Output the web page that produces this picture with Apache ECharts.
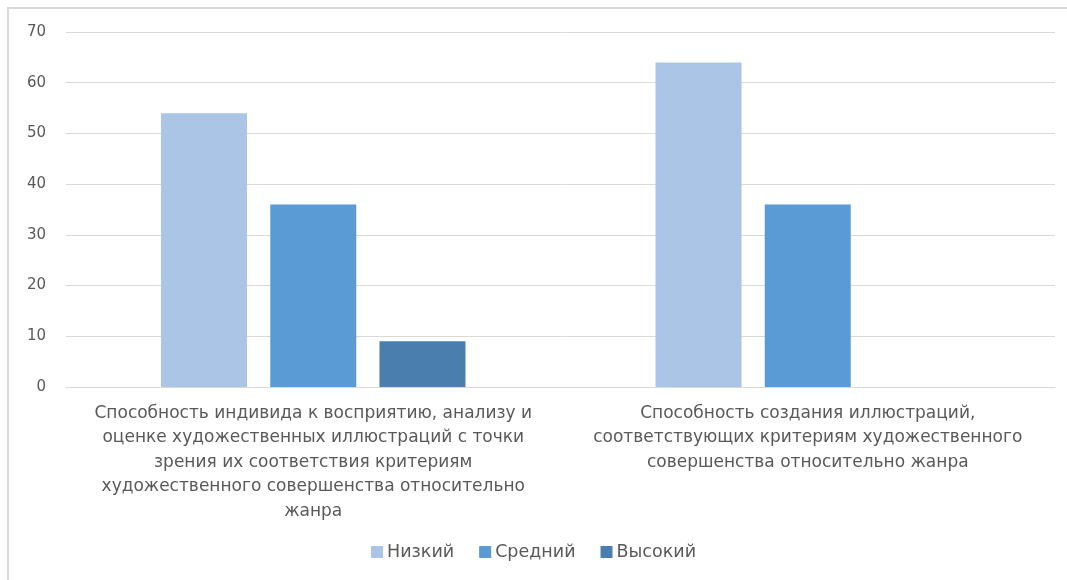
<!DOCTYPE html>
<html>
<head>
<meta charset="utf-8">
<script src="https://cdn.jsdelivr.net/npm/echarts@6/dist/echarts.min.js"></script>
<style>
  html, body { margin: 0; padding: 0; background: #fff; }
  #frame { position: absolute; left: 7px; top: 7px; width: 1060px; height: 573px;
           border-left: 2px solid #d9d9d9; border-top: 2px solid #d9d9d9; box-sizing: border-box; }
  #chart { position: absolute; left: 0; top: 0; width: 1067px; height: 580px; }
</style>
</head>
<body>
<div id="frame"></div>
<div id="chart"></div>
<script>
// Categories (axis labels, wrapped as they appear)
const categories = [
  'Способность индивида к восприятию, анализу и\nоценке художественных иллюстраций с точки\nзрения их соответствия критериям\nхудожественного совершенства относительно\nжанра',
  'Способность создания иллюстраций,\nсоответствующих критериям художественного\nсовершенства относительно жанра'
];
const seriesNames = ['Низкий', 'Средний', 'Высокий'];
const lowValues = [54, 64];
const midValues = [36, 36];
const highValues = [9, 0];
const yTicks = { min: 0, max: 70, interval: 10 };

const colors = ['#abc5e6', '#5b9bd5', '#4a7eaf'];
const font = 'DejaVu Sans';

const chart = echarts.init(document.getElementById('chart'), null, { renderer: 'canvas' });
const values = [lowValues, midValues, highValues];

chart.setOption({
  animation: false,
  color: colors,
  grid: { left: 66, right: 12, top: 32, bottom: 193, containLabel: false },
  legend: {
    bottom: 14,
    left: 'center',
    itemWidth: 12,
    itemHeight: 12,
    itemGap: 25,
    icon: 'rect',
    textStyle: { color: '#595959', fontSize: 17.5, fontFamily: font, padding: [0, 0, 0, -1] },
    data: seriesNames
  },
  xAxis: {
    type: 'category',
    data: categories,
    axisLine: { show: true, lineStyle: { color: '#d9d9d9', width: 1 } },
    axisTick: { show: false },
    axisLabel: {
      color: '#595959', fontSize: 17, fontFamily: font, lineHeight: 24.5,
      margin: 14, interval: 0, align: 'center'
    }
  },
  yAxis: {
    type: 'value',
    min: yTicks.min, max: yTicks.max, interval: yTicks.interval,
    axisLine: { show: false },
    axisTick: { show: false },
    axisLabel: { color: '#595959', fontSize: 15, fontFamily: font, margin: 20 },
    splitLine: { lineStyle: { color: '#d9d9d9', width: 1 } }
  },
  series: seriesNames.map((name, i) => ({
    name,
    type: 'bar',
    data: values[i],
    barWidth: 86,
    barGap: '27%',
    itemStyle: { color: colors[i] }
  }))
});
</script>
</body>
</html>
